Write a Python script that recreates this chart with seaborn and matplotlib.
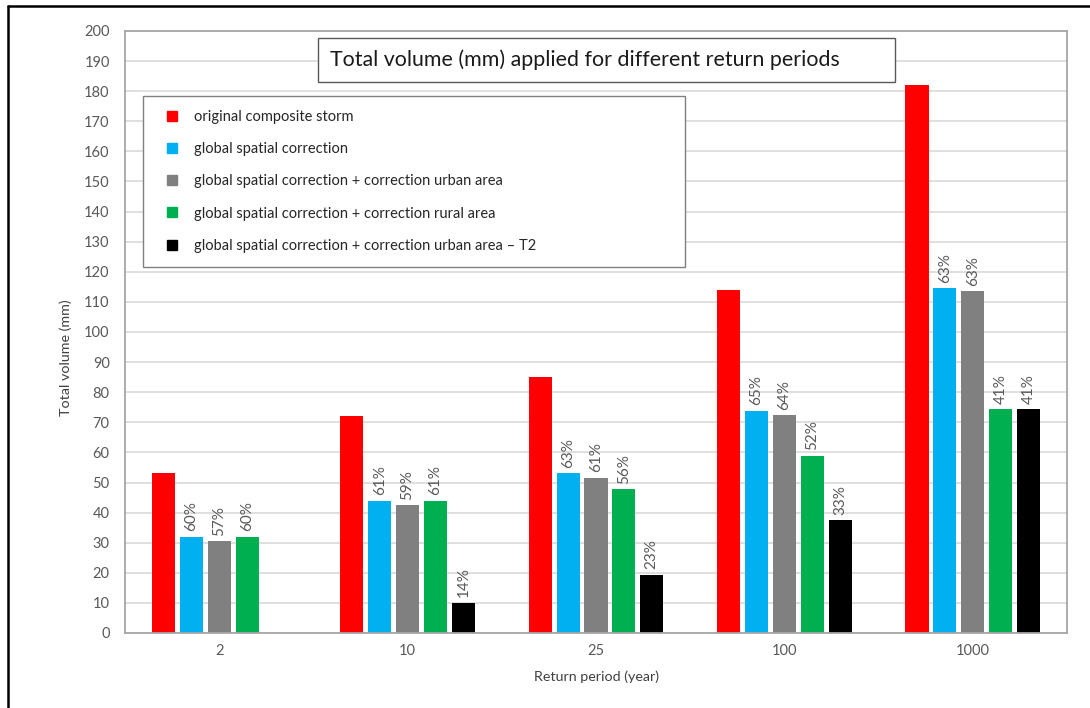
import numpy as np
import pandas as pd
import matplotlib
matplotlib.use("Agg")
import matplotlib.pyplot as plt
from matplotlib.lines import Line2D
from matplotlib.patches import Rectangle
import seaborn as sns

# ---------------- data ----------------
categories = ["2", "10", "25", "100", "1000"]
series_names = [
    "original composite storm",
    "global spatial correction",
    "global spatial correction + correction urban area",
    "global spatial correction + correction rural area",
    "global spatial correction + correction urban area \u2013 T2",
]
original = [53.3, 72.0, 85.0, 114.0, 182.0]
global_corr = [32.0, 44.0, 53.0, 73.8, 114.5]
urban = [30.5, 42.5, 51.6, 72.4, 113.6]
rural = [32.0, 44.0, 47.7, 58.8, 74.4]
urban_t2 = [np.nan, 10.0, 19.3, 37.4, 74.4]

pct_original = [None, None, None, None, None]
pct_global = ["60%", "61%", "63%", "65%", "63%"]
pct_urban = ["57%", "59%", "61%", "64%", "63%"]
pct_rural = ["60%", "61%", "56%", "52%", "41%"]
pct_urban_t2 = [None, "14%", "23%", "33%", "41%"]

colors = ["#FF0000", "#00B0F0", "#808080", "#00B050", "#000000"]
title = "Total volume (mm) applied for different return periods"
xlabel = "Return period (year)"
ylabel = "Total volume (mm)"

values = [original, global_corr, urban, rural, urban_t2]
pcts = [pct_original, pct_global, pct_urban, pct_rural, pct_urban_t2]

rows = []
for name, vals in zip(series_names, values):
    for c, v in zip(categories, vals):
        rows.append({"period": c, "series": name, "volume": v})
df = pd.DataFrame(rows)

# ---------------- figure ----------------
sns.set_theme(style="white")
plt.rcParams["font.family"] = ["Lato", "DejaVu Sans"]

W, H = 1090, 708
fig = plt.figure(figsize=(W / 100, H / 100), dpi=100)
L, R, T, B = 125, 1067, 31, 633
ax = fig.add_axes([L / W, 1 - B / H, (R - L) / W, (B - T) / H])

sns.barplot(
    data=df, x="period", y="volume", hue="series",
    order=categories, hue_order=series_names, palette=colors,
    width=0.74, gap=0.17, linewidth=0, errorbar=None, ax=ax, legend=False,
    saturation=1,
)

ax.set_ylim(0, 200)
ax.set_yticks(np.arange(0, 201, 10))
ax.yaxis.grid(True, color="#D9D9D9", linewidth=1.2)
ax.set_axisbelow(True)
for s in ax.spines.values():
    s.set_color("#A6A6A6")
    s.set_linewidth(1.3)
ax.tick_params(axis="both", length=0, labelsize=10.5, labelcolor="#595959")
ax.tick_params(axis="y", pad=11)
ax.tick_params(axis="x", pad=8)

ax.set_xlabel(xlabel, fontsize=10.3, color="#404040")
ax.set_ylabel(ylabel, fontsize=10.3, color="#404040")
ax.xaxis.set_label_coords(0.5, -0.063)
ax.yaxis.set_label_coords(-0.056, 0.458)

# percentage labels
for cont, vals, labs in zip(ax.containers, values, pcts):
    kept = [lab if lab is not None else "" for v, lab in zip(vals, labs) if not np.isnan(v)]
    if len(kept) != len(cont):
        kept = [lab if lab is not None else "" for lab in labs][:len(cont)]
    ax.bar_label(cont, labels=kept, rotation=90, padding=4,
                 fontsize=11, color="#595959")

# legend
handles = [Line2D([0], [0], marker="s", linestyle="none", markersize=6.5,
                  markerfacecolor=c, markeredgecolor=c) for c in colors]
leg = ax.legend(
    handles, series_names, loc="upper left",
    bbox_to_anchor=(0.019, 0.892, 0.5755, 0.0), mode="expand",
    frameon=True, fancybox=False, edgecolor="#808080", framealpha=1,
    fontsize=10.5, labelspacing=1.25, handletextpad=0.45, borderpad=0.95,
    handlelength=2.07, borderaxespad=0,
)
leg.get_frame().set_linewidth(1.0)
for t in leg.get_texts():
    t.set_color("#262626")

# title box
fig.patches.append(Rectangle((318 / W, 1 - 82 / H), (895 - 318) / W, 44 / H,
                             transform=fig.transFigure, facecolor="white",
                             edgecolor="#595959", linewidth=1.0, zorder=5))
fig.text(330 / W, 1 - 60 / H, title, fontsize=15.4, color="#1a1a1a",
         va="center", ha="left", zorder=6)

# outer black border (left and top)
fig.add_artist(Line2D([8 / W, 8 / W], [0, 1 - 6 / H], transform=fig.transFigure,
                      color="black", linewidth=1.8))
fig.add_artist(Line2D([8 / W, 1], [1 - 6 / H, 1 - 6 / H], transform=fig.transFigure,
                      color="black", linewidth=1.8))

fig.savefig("out.png", dpi=100)
